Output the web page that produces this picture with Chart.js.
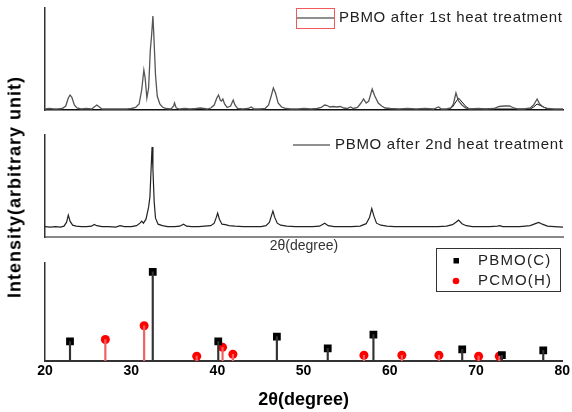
<!DOCTYPE html>
<html>
<head>
<meta charset="utf-8">
<script src="https://cdn.jsdelivr.net/npm/chart.js@4.4.0/dist/chart.umd.min.js"></script>
<style>
body { margin: 0; background: #fff; }
#wrap { position: relative; width: 572px; height: 412px; overflow: hidden; background: #fff; }
canvas { position: absolute; left: 0; }
#ytitle {
    position: absolute; left: 15px; top: 187px;
    transform: translate(-50%, -50%) rotate(-90deg);
    font: bold 18px "Liberation Sans", Arial, sans-serif;
    letter-spacing: 1px; white-space: nowrap; color: #000;
}
</style>
</head>
<body>
<div id="wrap">
    <canvas id="top" width="572" height="118" style="top:0px"></canvas>
    <canvas id="mid" width="572" height="137" style="top:118px"></canvas>
    <canvas id="bot" width="572" height="167" style="top:245px"></canvas>
    <div id="ytitle">Intensity(arbitrary unit)</div>
</div>
<script>
// names
const seriesNames = ['PBMO after 1st heat treatment', 'PBMO after 2nd heat treatment', 'PBMO(C)', 'PCMO(H)'];
const xTitle = '2θ(degree)';
const xTicks = [20, 30, 40, 50, 60, 70, 80];

// 1st heat treatment pattern
const angle1 = [20.0, 20.5, 21.0, 21.5, 22.0, 22.4, 22.7, 22.9, 23.1, 23.4, 23.7, 24.2, 24.8, 25.4, 25.7, 26.0, 26.3, 26.6, 27.2, 28.0,
    28.8, 29.5, 30.0, 30.5, 30.9, 31.2, 31.45, 31.6, 31.8, 32.0, 32.2, 32.35, 32.5, 32.6, 32.8, 33.0, 33.3, 33.6, 34.0, 34.6,
    34.9, 35.0, 35.2, 35.6, 36.2, 36.8, 37.5, 38.0, 38.4, 38.8, 39.2, 39.6, 39.9, 40.1, 40.3, 40.45, 40.6, 40.8, 41.1, 41.5,
    41.8, 42.0, 42.3, 42.9, 43.5, 43.9, 44.2, 44.8, 45.5, 45.9, 46.2, 46.45, 46.7, 47.0, 47.4, 47.9, 48.5, 49.3, 50.0, 50.8,
    51.5, 52.0, 52.4, 52.7, 53.0, 53.4, 53.8, 54.2, 54.6, 55.0, 55.4, 55.7, 56.2, 56.6, 56.9, 57.2, 57.5, 57.9, 58.2, 58.6,
    59.0, 59.4, 60.0, 61.0, 62.0, 63.0, 64.0, 65.0, 65.6, 65.9, 66.5, 67.0, 67.3, 67.6, 67.9, 68.3, 68.7, 69.2, 70.2, 71.0,
    72.0, 72.6, 73.2, 73.8, 74.2, 74.8, 75.5, 76.2, 76.6, 77.0, 77.3, 77.7, 78.2, 79.0, 80.0];
const intensity1 = [1, 1.5, 1, 1, 1.5, 4, 12, 15, 13, 5, 2, 1, 1.5, 1, 3, 5, 3, 1, 1, 1,
    1, 1, 1.5, 2.5, 6, 20, 40, 32, 12, 22, 60, 75, 94, 76, 35, 14, 6, 3, 1.5, 1,
    4, 7, 2, 1, 1.5, 1, 1.5, 2, 1.5, 1, 2, 5, 12, 15, 10, 9, 11, 6, 2.5, 4,
    10, 5, 1.5, 1, 1.5, 3, 1, 1, 1.5, 5, 14, 22, 17, 7, 3, 1.5, 1, 1, 1.5, 1,
    1.5, 2.5, 5, 4.5, 3, 3.5, 3, 3.5, 2, 1.5, 3, 1.5, 2.5, 7, 11, 7, 9, 21, 14, 7,
    4, 2, 1.5, 1, 1.5, 1, 1.5, 1, 3, 1, 1, 2, 6, 17, 9, 5, 2, 1, 1.5, 1,
    1.5, 3.5, 4, 4, 2.5, 1, 1, 2, 5, 11, 6, 3, 1.5, 1, 1];
// second trace overlapping the 1st pattern around 68 and 77
const angle1b = [66.8, 67.2, 67.5, 67.9, 68.3, 68.8, 69.2, 76.2, 76.6, 77.0, 77.5, 78.0, 78.4];
const intensity1b = [1, 3, 7, 12, 8, 3, 1, 1, 3, 6, 4, 2, 1];

// 2nd heat treatment pattern
const angle2 = [20.0, 20.6, 21.2, 21.8, 22.2, 22.5, 22.7, 22.9, 23.2, 23.6, 24.2, 24.8, 25.4, 25.7, 26.0, 26.6, 27.4, 28.2, 28.7, 29.2,
    30.0, 30.6, 31.0, 31.2, 31.4, 31.7, 32.0, 32.15, 32.3, 32.4, 32.5, 32.65, 32.8, 33.1, 33.6, 34.2, 35.0, 35.6, 36.05, 36.4,
    37.0, 37.8, 38.5, 39.2, 39.6, 39.85, 40.0, 40.2, 40.5, 40.9, 41.3, 42.0, 43.0, 44.0, 45.0, 45.6, 46.0, 46.25, 46.4, 46.6,
    46.9, 47.3, 48.0, 49.0, 50.0, 51.0, 51.8, 52.4, 52.8, 53.5, 54.5, 55.5, 56.5, 57.2, 57.6, 57.85, 58.1, 58.4, 58.9, 59.6,
    60.5, 61.5, 62.5, 63.5, 64.5, 65.5, 66.5, 67.2, 67.6, 67.9, 68.3, 68.8, 69.5, 70.5, 71.5, 72.4, 72.7, 73.0, 74.0, 75.0,
    76.2, 76.8, 77.2, 77.6, 78.2, 79.0, 80.0];
const intensity2 = [10.5, 10, 10.5, 10, 11, 15, 22, 16, 12, 11, 10.5, 10.5, 11, 12.7, 11.5, 10.5, 10.5, 10, 11.5, 10.5,
    10.5, 11.5, 14, 16, 14, 18, 30, 40, 70, 90, 68, 35, 19, 13, 11.5, 10.5, 10.5, 11, 13, 11,
    10.5, 10.5, 11, 11.5, 14, 20, 24, 18, 13, 12.5, 11.5, 11, 10.5, 10.5, 10.5, 11.5, 15, 22, 26, 20,
    14, 12, 11, 10.5, 10.5, 10.5, 11, 14, 11.5, 10.5, 10.5, 10.5, 11, 13.5, 20, 28.5, 21, 14, 12, 11,
    10.5, 10.5, 10.5, 10.5, 10.5, 10.5, 11, 12.5, 15, 17, 13.5, 11.5, 10.5, 10.5, 10.5, 11, 11.5, 10.5, 10.5, 10.5,
    11.5, 13.5, 14.7, 13, 11, 10.5, 10];

// reference lines
const pbmoAngle = [22.9, 32.5, 40.1, 46.9, 52.8, 58.1, 68.4, 73.0, 77.8];
const pbmoInt = [20, 91, 20, 25, 13, 27, 12, 6, 11];
const pcmoAngle = [27.0, 31.5, 37.6, 40.6, 41.8, 57.0, 61.4, 65.7, 70.3, 72.7];
const pcmoInt = [22, 36, 5, 14, 7, 6, 6, 6, 5, 5];

const FONT = '"Liberation Sans", Arial, sans-serif';
const pts = (xs, ys) => xs.map((x, i) => ({ x: x, y: ys[i] }));

// legends drawn at fixed spots inside each panel
const panelLegend = {
    id: 'panelLegend',
    afterDraw(chart, args, opts) {
        const ctx = chart.ctx;
        ctx.save();
        ctx.textBaseline = 'middle';
        ctx.font = opts.font;
        ctx.letterSpacing = opts.spacing;
        ctx.fillStyle = '#222';
        if (opts.kind === 'line') {
            if (opts.box) {
                ctx.strokeStyle = '#f05a5a';
                ctx.lineWidth = 1;
                ctx.strokeRect(opts.x - 0.5, opts.y - 9.5, 38, 20);
            }
            ctx.strokeStyle = '#222';
            ctx.lineWidth = 1.2;
            ctx.beginPath();
            ctx.moveTo(opts.x, opts.y);
            ctx.lineTo(opts.x + 37, opts.y);
            ctx.stroke();
            ctx.fillText(opts.text, opts.x + 42, opts.y);
        } else {
            ctx.strokeStyle = '#333';
            ctx.lineWidth = 1;
            ctx.strokeRect(436.5, 3.5, 124, 43);
            ctx.fillStyle = '#000';
            ctx.fillRect(453.5, 13, 5.5, 5.5);
            ctx.fillStyle = '#ff0000';
            ctx.beginPath();
            ctx.arc(456, 36, 3.3, 0, Math.PI * 2);
            ctx.fill();
            ctx.fillStyle = '#222';
            ctx.fillText(seriesNames[2], 478, 16);
            ctx.fillText(seriesNames[3], 478, 36);
        }
        ctx.restore();
    }
};

function hiddenScales(ymax, border, xTitleOpts) {
    return {
        x: {
            type: 'linear', min: 20, max: 80, offset: false,
            ticks: { display: false },
            grid: { display: false, drawTicks: false },
            border: { display: true, color: border.color, width: border.width },
            title: xTitleOpts || { display: false }
        },
        y: {
            min: 0, max: ymax,
            ticks: { display: false },
            grid: { display: false, drawTicks: false },
            border: { display: true, color: '#333', width: 1.5 }
        }
    };
}

new Chart(document.getElementById('top'), {
    type: 'line',
    data: {
        datasets: [
            { data: pts(angle1, intensity1), borderColor: '#555', borderWidth: 1.3, pointRadius: 0, tension: 0 },
            { data: pts(angle1b, intensity1b), borderColor: '#111', borderWidth: 1, pointRadius: 0, tension: 0 }
        ]
    },
    options: {
        responsive: false, animation: false,
        layout: { padding: { left: 45, right: 9, top: 8, bottom: 8 } },
        scales: hiddenScales(102, { color: '#111', width: 1.5 }),
        plugins: {
            legend: { display: false }, tooltip: { enabled: false },
            panelLegend: { kind: 'line', box: true, x: 297, y: 18, text: seriesNames[0], font: '15px ' + FONT, spacing: '0.7px' }
        }
    },
    plugins: [panelLegend]
});

new Chart(document.getElementById('mid'), {
    type: 'line',
    data: {
        datasets: [
            { data: pts(angle2, intensity2), borderColor: '#222', borderWidth: 1.2, pointRadius: 0, tension: 0 }
        ]
    },
    options: {
        responsive: false, animation: false,
        layout: { padding: { left: 45, right: 9, top: 17, bottom: 0 } },
        scales: hiddenScales(102, { color: '#888', width: 2 }, {
            display: true, text: xTitle, color: '#333',
            font: { family: FONT, size: 14 }, padding: { top: 1, bottom: 0 }
        }),
        plugins: {
            legend: { display: false }, tooltip: { enabled: false },
            panelLegend: { kind: 'line', box: false, x: 293, y: 27, text: seriesNames[1], font: '15px ' + FONT, spacing: '0.7px' }
        }
    },
    plugins: [panelLegend]
});

new Chart(document.getElementById('bot'), {
    type: 'scatter',
    data: {
        datasets: [
            { type: 'bar', data: pts(pbmoAngle, pbmoInt), backgroundColor: '#333', barThickness: 1.5, grouped: false },
            { type: 'bar', data: pts(pcmoAngle, pcmoInt), backgroundColor: '#f06060', barThickness: 1.5, grouped: false },
            { type: 'scatter', data: pts(pbmoAngle, pbmoInt), pointStyle: 'rect', pointRadius: 5.5, backgroundColor: '#000', borderWidth: 0 },
            { type: 'scatter', data: pts(pcmoAngle, pcmoInt), pointStyle: 'circle', pointRadius: 4.5, backgroundColor: '#ff0000', borderWidth: 0 }
        ]
    },
    options: {
        responsive: false, animation: false,
        layout: { padding: { left: 45, right: 9, top: 18, bottom: 1.5 } },
        scales: {
            x: {
                type: 'linear', min: 20, max: 80, offset: false,
                afterBuildTicks: (s) => { s.ticks = xTicks.map(v => ({ value: v })); },
                ticks: { color: '#000', padding: 2, font: { family: FONT, size: 14, weight: 'bold' } },
                grid: { display: false, drawTicks: false },
                border: { display: true, color: '#333', width: 2 },
                title: { display: true, text: xTitle, color: '#000', font: { family: FONT, size: 18, weight: 'bold' }, padding: { top: 7, bottom: 0 } }
            },
            y: {
                min: 0, max: 100,
                ticks: { display: false },
                grid: { display: false, drawTicks: false },
                border: { display: true, color: '#333', width: 1.5 }
            }
        },
        plugins: {
            legend: { display: false }, tooltip: { enabled: false },
            panelLegend: { kind: 'box', font: '15px ' + FONT, spacing: '1.2px' }
        }
    },
    plugins: [panelLegend]
});
</script>
</body>
</html>
